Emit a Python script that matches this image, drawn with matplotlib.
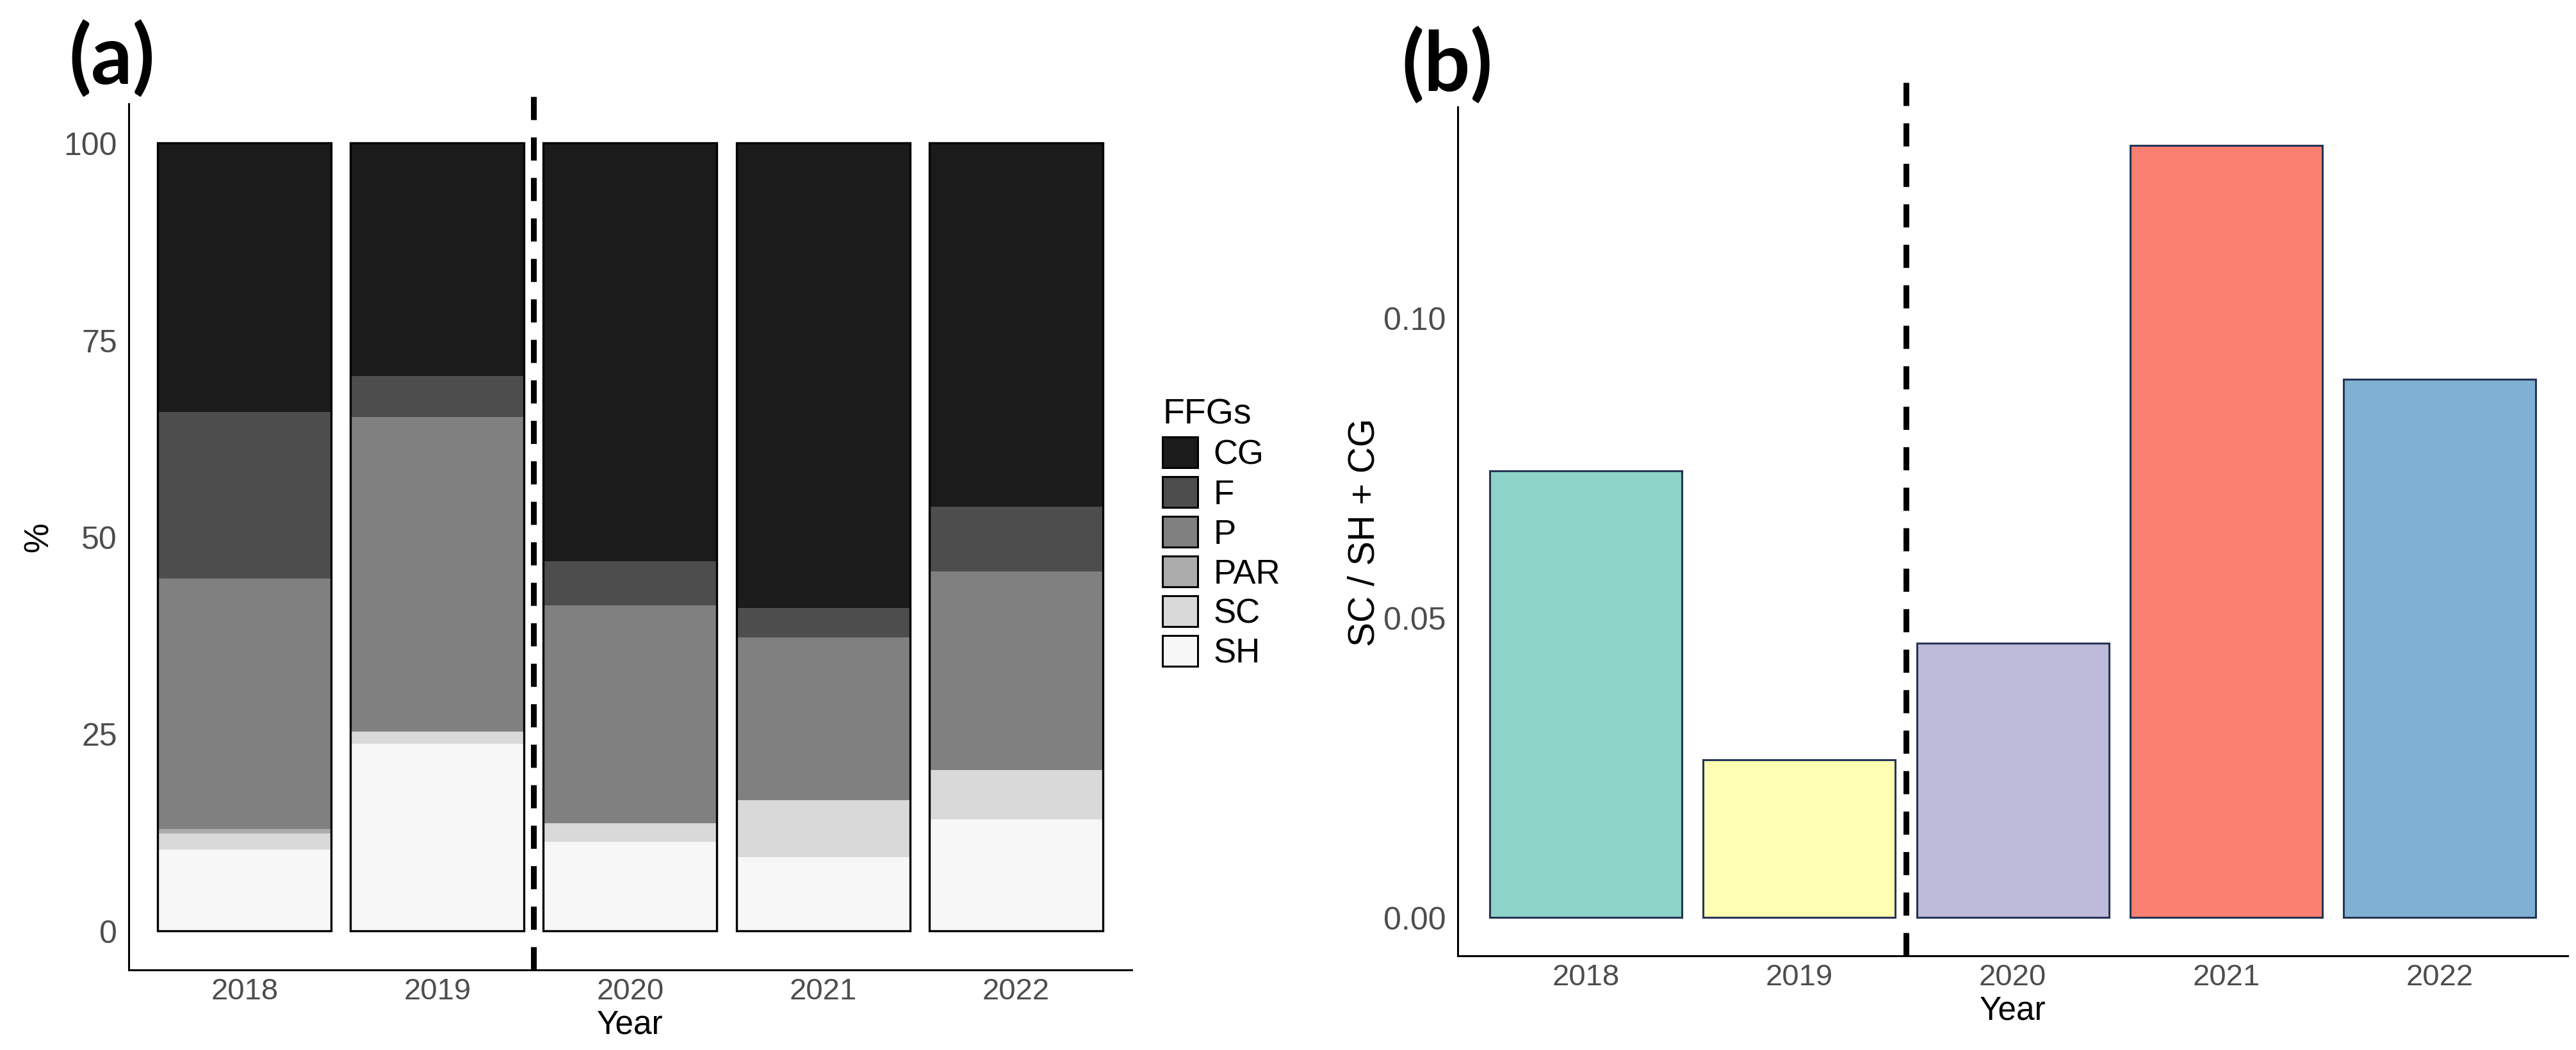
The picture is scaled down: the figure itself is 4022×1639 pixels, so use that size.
import numpy as np
import matplotlib
matplotlib.use("Agg")
import matplotlib.pyplot as plt
from matplotlib.patches import Patch

plt.rcParams['font.family'] = ['Liberation Sans', 'DejaVu Sans']

years = ["2018", "2019", "2020", "2021", "2022"]

# FFG shares (%) per year, stacked bottom -> top: SH, SC, PAR, P, F, CG
sh = [10.3, 23.7, 11.3, 9.3, 14.1]
sc = [2.0, 1.6, 2.3, 7.3, 6.3]
par = [0.6, 0.0, 0.0, 0.0, 0.0]
p = [31.8, 39.9, 27.7, 20.6, 25.2]
f = [21.2, 5.2, 5.6, 3.8, 8.2]
cg = [34.1, 29.6, 53.1, 59.0, 46.2]

# SC / SH + CG ratio
ratio = [0.0744, 0.0263, 0.0457, 0.1287, 0.0897]

ffg_names = ["CG", "F", "P", "PAR", "SC", "SH"]
ffg_cols = ["#1b1b1b", "#4d4d4d", "#808080", "#acacac", "#d9d9d9", "#f7f7f7"]
bar_cols = ["#8DD3C7", "#FFFFB3", "#BEBADA", "#FB8072", "#80B1D3"]

tick_grey = "#4d4d4d"

fig = plt.figure(figsize=(40.22, 16.4), dpi=100)

# ---- (a) stacked bars
ax1 = fig.add_axes([0.050, 0.0762, 0.3893, 0.8244])
x = np.arange(1, len(years) + 1)
stack = [("SH", sh), ("SC", sc), ("PAR", par), ("P", p), ("F", f), ("CG", cg)]
bottom = np.zeros(len(years))
for name, vals in stack:
    col = ffg_cols[ffg_names.index(name)]
    ax1.bar(x, vals, width=0.9, bottom=bottom, color=col, edgecolor='none', zorder=2)
    bottom = bottom + np.array(vals)
ax1.bar(x, bottom, width=0.9, fill=False, edgecolor='black', linewidth=2.4, zorder=3)

ax1.set_xlim(0.4, 5.6)
ax1.set_ylim(-5, 105)
ax1.set_yticks([0, 25, 50, 75, 100])
ax1.set_xticks(x)
ax1.set_xticklabels(years)
ax1.plot([2.5, 2.5], [-5, 106.7], color='black', linewidth=6.5,
         linestyle=(0, (4, 3)), clip_on=False, zorder=4)
ax1.set_ylabel("%", fontsize=38, labelpad=10)
ax1.set_xlabel("Year", fontsize=37, labelpad=4)

# ---- (b) ratio bars
ax2 = fig.add_axes([0.5659, 0.0896, 0.4309, 0.8080])
ax2.bar(x, ratio, width=0.9, color=bar_cols, edgecolor='#263556', linewidth=2.2, zorder=2)
ax2.set_xlim(0.4, 5.6)
ax2.set_ylim(-0.00644, 0.1351)
ax2.set_yticks([0.00, 0.05, 0.10])
ax2.set_yticklabels(["0.00", "0.05", "0.10"])
ax2.set_xticks(x)
ax2.set_xticklabels(years)
ax2.plot([2.5, 2.5], [-0.00644, 0.1394], color='black', linewidth=6.5,
         linestyle=(0, (4, 3)), clip_on=False, zorder=4)
ax2.set_ylabel("SC / SH + CG", fontsize=41, labelpad=2)
ax2.set_xlabel("Year", fontsize=37, labelpad=4)

for ax in (ax1, ax2):
    for s in ("top", "right"):
        ax.spines[s].set_visible(False)
    for s in ("left", "bottom"):
        ax.spines[s].set_linewidth(2.2)
        ax.spines[s].set_color('black')
    ax.tick_params(axis='both', length=0)
    ax.tick_params(axis='y', labelsize=36, labelcolor=tick_grey, pad=13)
    ax.tick_params(axis='x', labelsize=34, labelcolor=tick_grey, pad=8)

# legend
handles = [Patch(facecolor=c, edgecolor='black', linewidth=2.2) for c in ffg_cols]
leg = fig.legend(handles, ffg_names, title="FFGs", loc='upper left',
                 bbox_to_anchor=(1815 / 4022, 1 - 622 / 1640), frameon=False,
                 fontsize=38, title_fontsize=40, handlelength=1.05, handleheight=1.02,
                 labelspacing=0.17, handletextpad=0.45, borderpad=0, borderaxespad=0,
                 alignment='left')

# panel letters
fig.text(107 / 4022, 1 - 132 / 1640, "(a)", fontsize=92, fontweight='bold',
         family=['Lato', 'DejaVu Sans'], ha='left', va='baseline')
fig.text(2188 / 4022, 1 - 142 / 1640, "(b)", fontsize=92, fontweight='bold',
         family=['Lato', 'DejaVu Sans'], ha='left', va='baseline')

fig.savefig("out.png", dpi=100)
